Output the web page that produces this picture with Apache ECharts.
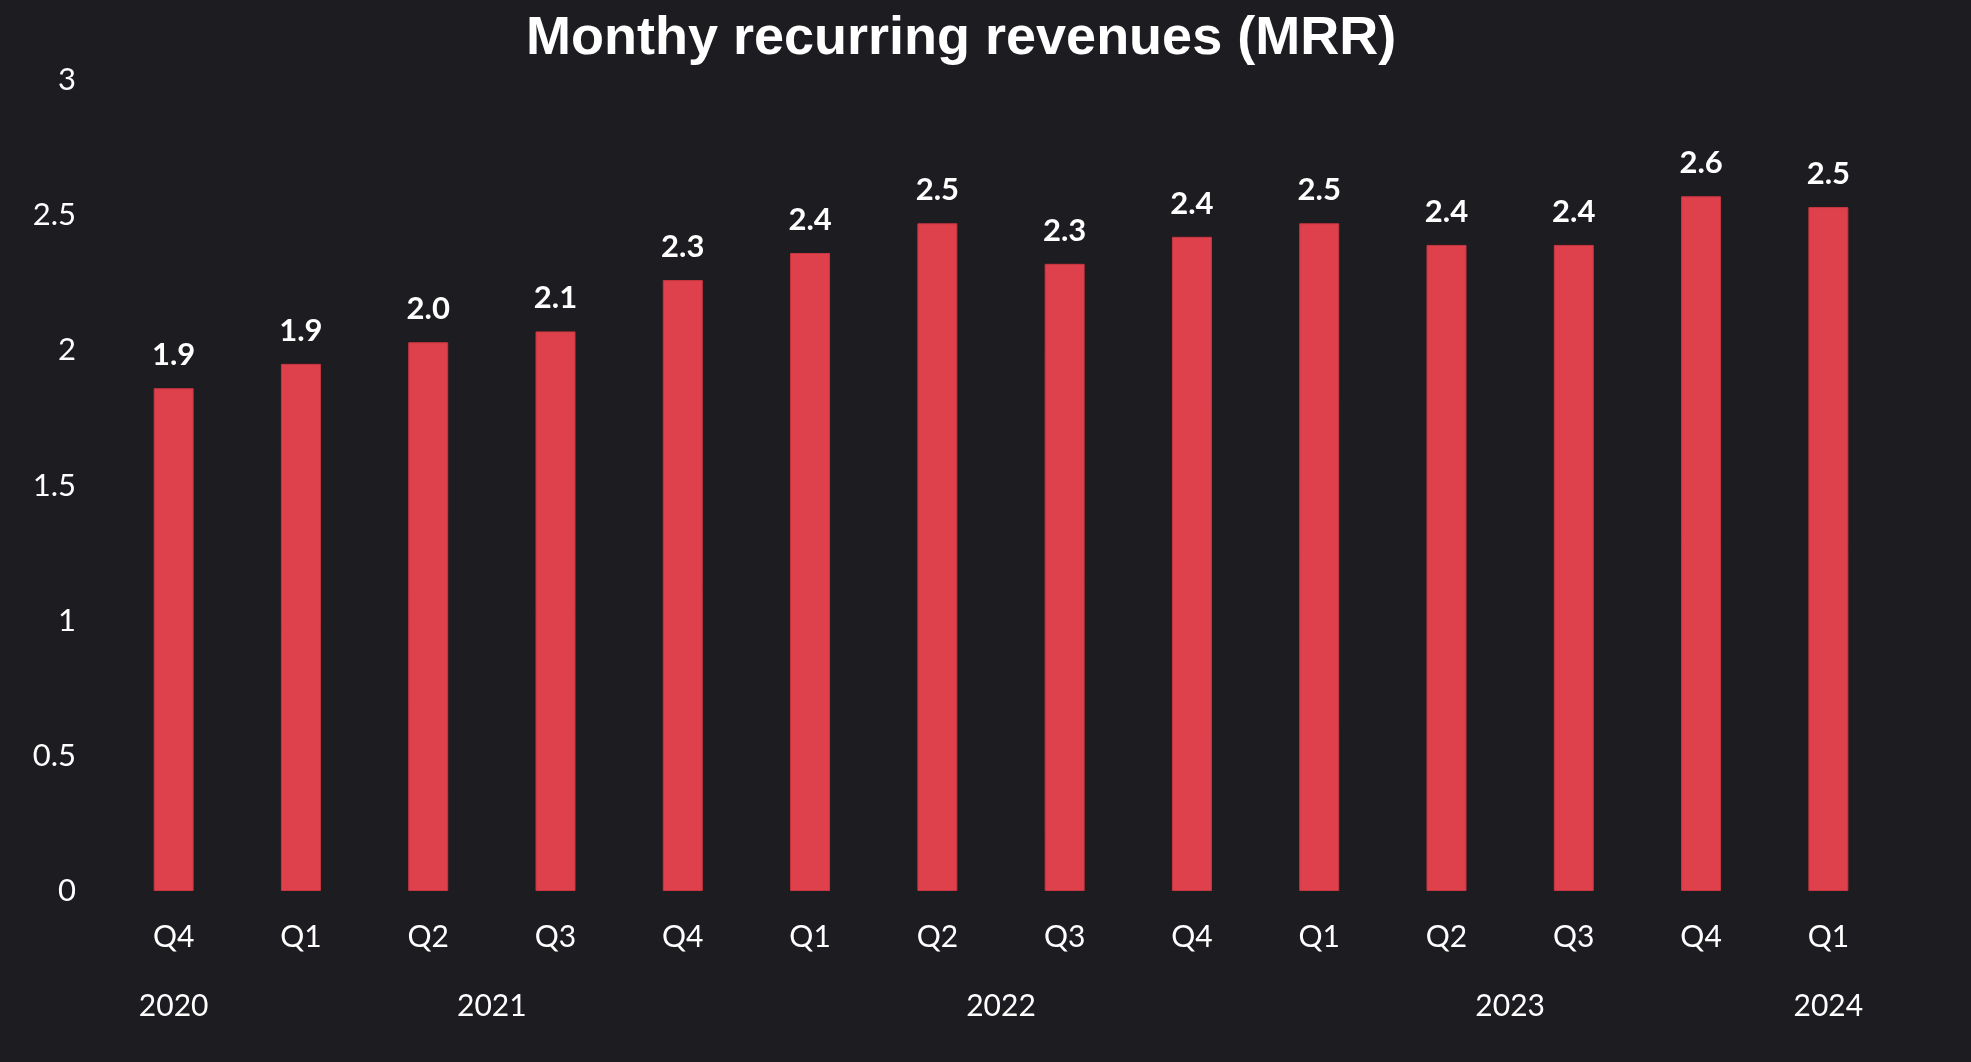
<!DOCTYPE html>
<html>
<head>
<meta charset="utf-8">
<script src="https://cdn.jsdelivr.net/npm/echarts@6/dist/echarts.min.js"></script>
<style>
html,body{margin:0;padding:0;background:#1c1c21;}
#chart{width:1971px;height:1062px;}
</style>
</head>
<body>
<div id="chart"></div>
<script>
const titleText = 'Monthy recurring revenues (MRR)';
const quarters = ['Q4','Q1','Q2','Q3','Q4','Q1','Q2','Q3','Q4','Q1','Q2','Q3','Q4','Q1'];
const quarterYears = ['2020','2021','2021','2021','2021','2022','2022','2022','2022','2023','2023','2023','2023','2024'];
const mrrValues = [1.86, 1.95, 2.03, 2.07, 2.26, 2.36, 2.47, 2.32, 2.42, 2.47, 2.39, 2.39, 2.57, 2.53];
const yTicks = [0, 0.5, 1, 1.5, 2, 2.5, 3];

// center position (in category-index units) of each year group
const yearCenters = {};
(function(){
  const groups = {};
  quarterYears.forEach((y, i) => {
    if (!groups[y]) groups[y] = [];
    groups[y].push(i);
  });
  Object.keys(groups).forEach(y => {
    const idx = groups[y];
    const c = (idx[0] + idx[idx.length - 1]) / 2;
    yearCenters[c.toFixed(1)] = y;
  });
})();

const chart = echarts.init(document.getElementById('chart'));
const txt = '#ffffff';
const font = 'Lato, "Noto Sans", sans-serif';

chart.setOption({
  backgroundColor: '#1c1c21',
  animation: false,
  title: {
    text: titleText,
    left: 521,
    top: 7,
    textStyle: {
      color: txt,
      fontFamily: '"Liberation Sans", Arial, sans-serif',
      fontWeight: 'bold',
      fontSize: 54
    }
  },
  grid: { left: 110, right: 79, top: 80, bottom: 171, containLabel: false },
  xAxis: [
    {
      type: 'category',
      data: quarters,
      boundaryGap: true,
      axisLine: { show: false },
      axisTick: { show: false },
      axisLabel: { color: txt, fontFamily: font, fontSize: 30, lineHeight: 30, margin: 31, interval: 0 }
    },
    {
      type: 'value',
      position: 'bottom',
      min: -0.5,
      max: quarters.length - 0.5,
      interval: 0.5,
      axisLine: { show: false },
      axisTick: { show: false },
      splitLine: { show: false },
      axisLabel: {
        color: txt, fontFamily: font, fontSize: 30, lineHeight: 30, margin: 100,
        showMinLabel: true, showMaxLabel: true,
        formatter: v => yearCenters[v.toFixed(1)] || ''
      }
    }
  ],
  yAxis: {
    type: 'value',
    min: yTicks[0],
    max: yTicks[yTicks.length - 1],
    interval: 0.5,
    axisLine: { show: false },
    axisTick: { show: false },
    splitLine: { show: false },
    axisLabel: { color: txt, fontFamily: font, fontSize: 31, margin: 34 }
  },
  series: [{
    type: 'bar',
    xAxisIndex: 0,
    data: mrrValues,
    barWidth: 40,
    itemStyle: { color: '#de414b', borderColor: '#c8363f', borderWidth: 1 },
    label: {
      show: true,
      position: 'top',
      distance: 18,
      color: txt,
      fontFamily: font,
      fontWeight: 'bold',
      fontSize: 31,
      lineHeight: 30,
      formatter: p => p.value.toFixed(1)
    }
  }]
});
</script>
</body>
</html>
